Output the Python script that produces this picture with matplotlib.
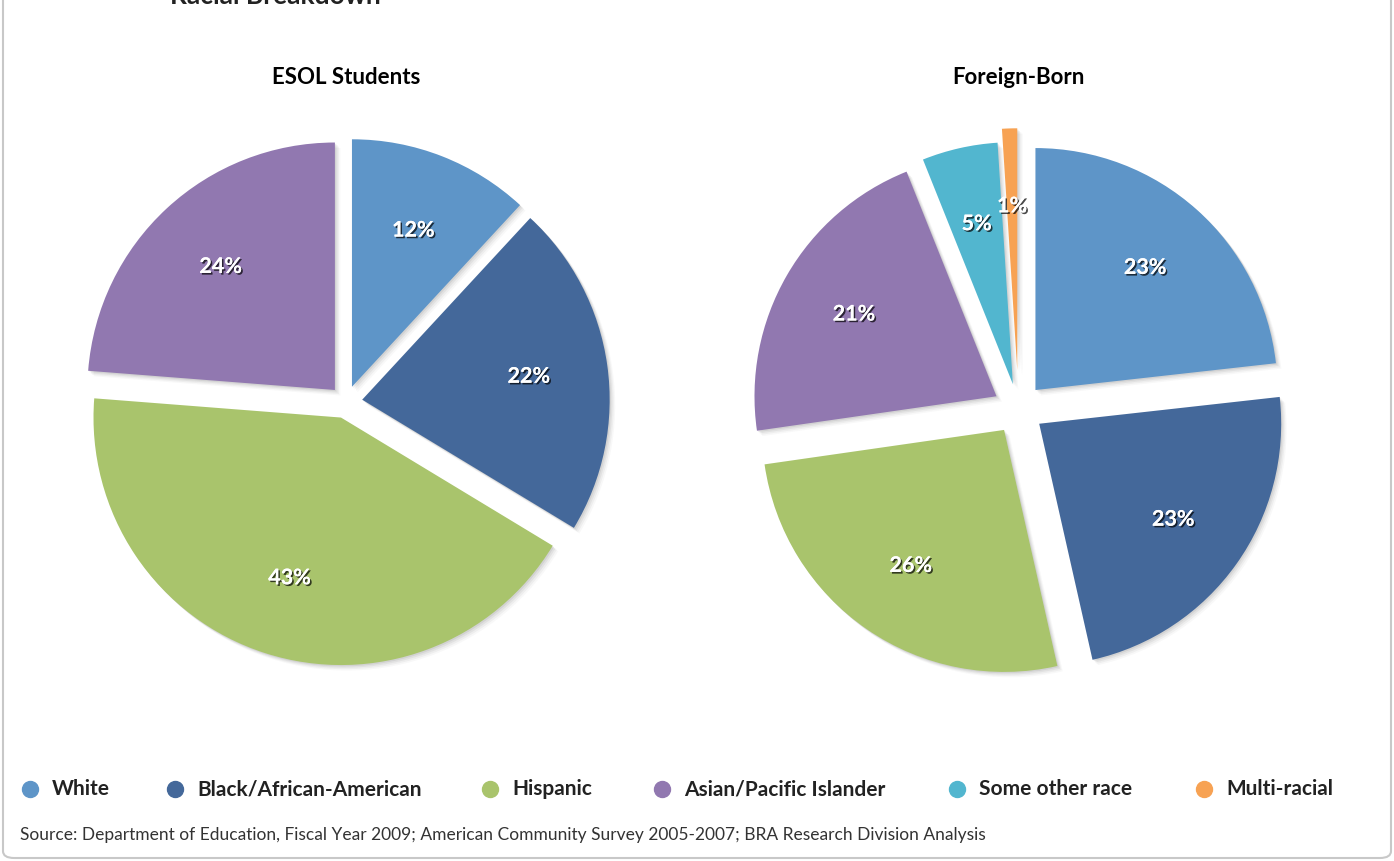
import numpy as np
import matplotlib.pyplot as plt
from matplotlib import patches, patheffects

# datos
razas = ['White', 'Black/African-American', 'Hispanic', 'Asian/Pacific Islander',
         'Some other race', 'Multi-racial']
colores = ['#5E95C8', '#44689A', '#A9C46C', '#9178B0', '#52B6CF', '#F7A253']

esol_valores = [12, 22, 43, 24]
foreign_valores = [23, 23, 26, 21, 5, 1]

W, H = 1394, 861
plt.rcParams['font.family'] = ['Lato', 'DejaVu Sans']

fig = plt.figure(figsize=(W / 100, H / 100), dpi=100)


def eje_pie(cx, cy, r):
    # crea un eje cuadrado centrado en (cx, cy) pixeles, radio r pixeles
    lado = 2.6 * r
    return fig.add_axes([(cx - lado / 2) / W, (H - cy - lado / 2) / H, lado / W, lado / H])


def dibujar_pie(ax, valores, explode, cols):
    wedges, textos, autotextos = ax.pie(
        valores, colors=cols, explode=explode, startangle=90, counterclock=False,
        autopct='%.0f%%', pctdistance=0.68,
        textprops=dict(color='white', fontsize=15.5, fontweight='bold'))
    ax.set_xlim(-1.3, 1.3)
    ax.set_ylim(-1.3, 1.3)
    # sombra difusa
    for w in wedges:
        for k, a in zip([0.004, 0.008, 0.012, 0.016], [0.10, 0.08, 0.06, 0.04]):
            sh = patches.Shadow(w, k, -k, facecolor='#555555', edgecolor='none', alpha=a)
            ax.add_patch(sh)
    for t in autotextos:
        t.set_path_effects([patheffects.withSimplePatchShadow(offset=(1.2, -1.2),
                                                              shadow_rgbFace='black', alpha=0.7),
                            patheffects.Normal()])
    return wedges


ax1 = eje_pie(346, 402, 247.5)
dibujar_pie(ax1, esol_valores, [0.066] * 4, colores[:4])
ax2 = eje_pie(1018.5, 409, 242)
dibujar_pie(ax2, foreign_valores, [0.105] * 5 + [0.16], colores)

# titulos
fig.text(346 / W, 1 - 77 / H, 'ESOL Students', ha='center', va='center',
         fontsize=16, fontweight='bold')
fig.text(1018 / W, 1 - 77 / H, 'Foreign-Born', ha='center', va='center',
         fontsize=16, fontweight='bold')
fig.text(170 / W, 1 - 4 / H, 'Racial Breakdown', ha='left', va='baseline',
         fontsize=19, fontweight='bold', color='#222222')

# leyenda
x_marcas = [30, 175, 490, 662, 957, 1204]
for xm, nombre, c in zip(x_marcas, razas, colores):
    fig.lines.append(plt.Line2D([xm / W], [1 - 789 / H], marker='o', markersize=11.5,
                                color=c, linestyle='none', transform=fig.transFigure))
    fig.text((xm + 22) / W, 1 - 789 / H, nombre, ha='left', va='center',
             fontsize=15, fontweight='bold', color='#222222')

fig.text(20 / W, 1 - 835 / H,
         'Source: Department of Education, Fiscal Year 2009; American Community Survey 2005-2007; '
         'BRA Research Division Analysis',
         ha='left', va='center', fontsize=12.5, color='#333333')

# borde redondeado
borde = patches.FancyBboxPatch((3 / W, 3 / H), (W - 6) / W, 1.2,
                               boxstyle='round,pad=0,rounding_size=0.008',
                               transform=fig.transFigure, facecolor='none',
                               edgecolor='#C8C8C8', linewidth=1.5)
fig.patches.append(borde)

fig.savefig('out.png', dpi=100, facecolor='white')
